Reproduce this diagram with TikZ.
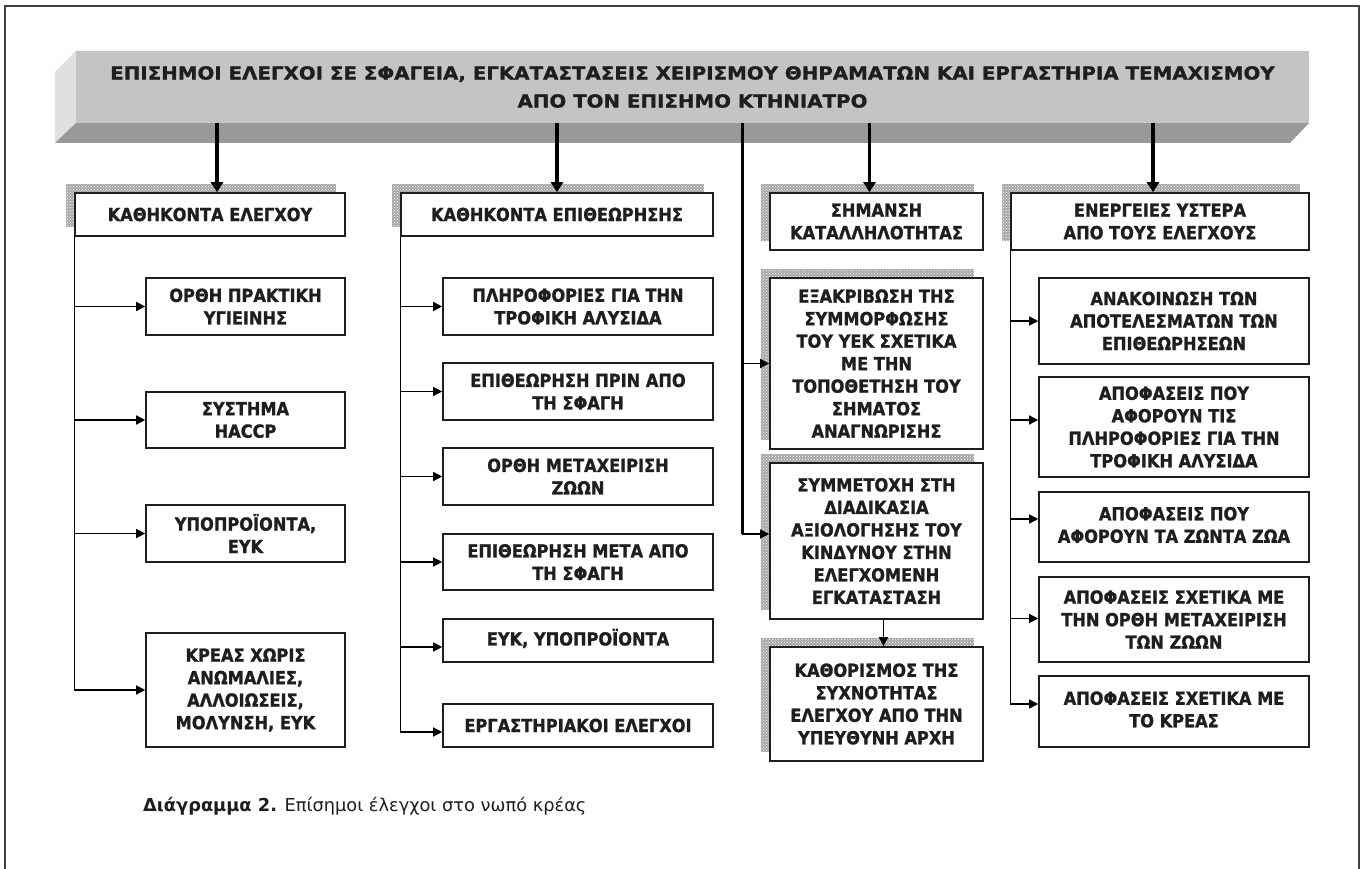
\documentclass[tikz,border=0pt]{standalone}
\usepackage{fontspec}
\setmainfont{DejaVu Sans}
\newfontfamily\boxfamily[FakeStretch=0.9, BoldFeatures={FakeBold=1.2}]{DejaVu Sans}
\newfontfamily\titlefamily[FakeStretch=1.1, BoldFeatures={FakeBold=1.2}]{DejaVu Sans}
\usetikzlibrary{arrows.meta,patterns}
\definecolor{ink}{HTML}{1E1E1E}
\definecolor{frontgray}{HTML}{C4C4C4}
\definecolor{leftgray}{HTML}{E0E0E0}
\definecolor{bottomgray}{HTML}{999999}
\definecolor{framegray}{HTML}{404040}
\definecolor{shadowgray}{HTML}{A8A8A8}
\tikzset{
  box/.style={draw=ink, line width=1.6pt, fill=white, text=ink, align=center, inner sep=2pt,
              font=\boxfamily\bfseries\fontsize{18}{22.5}\selectfont},
  shadowfill/.style={fill=shadowgray},
  shadowdots/.style={pattern=crosshatch dots, pattern color=white},
  conn/.style={line width=1.4pt, draw=black},
  branch/.style={conn, -{Triangle[length=9pt,width=9pt]}},
  mainarrow/.style={line width=3.5pt, draw=black, -{Triangle[length=10pt,width=12pt]}},
}
\newcommand{\shadowrect}[4]{%
  \fill[shadowfill] (#1,#2) rectangle (#3,#4);
  \fill[shadowdots] (#1,#2) rectangle (#3,#4);}
\newcommand{\uptext}[2]{\raisebox{#1}{\begin{tabular}{@{}c@{}}#2\end{tabular}}}
\begin{document}
\begin{tikzpicture}[x=1pt,y=-1pt]
\useasboundingbox (0,0) rectangle (1365,869);
% outer frame
\draw[framegray, line width=2pt] (5,869) -- (5,6) -- (1359,6) -- (1359,869);
% banner
\fill[leftgray] (76,51) -- (55,72) -- (55,143) -- (76,123) -- cycle;
\fill[bottomgray] (76,123) -- (1309,123) -- (1290,143) -- (55,143) -- cycle;
\node[fill=frontgray, minimum width=1233pt, minimum height=72pt, inner sep=0pt,
      text=ink, align=center, font=\titlefamily\bfseries\fontsize{18}{28}\selectfont]
  (banner) at (692.5,87) {ΕΠΙΣΗΜΟΙ ΕΛΕΓΧΟΙ ΣΕ ΣΦΑΓΕΙΑ, ΕΓΚΑΤΑΣΤΑΣΕΙΣ ΧΕΙΡΙΣΜΟΥ ΘΗΡΑΜΑΤΩΝ ΚΑΙ ΕΡΓΑΣΤΗΡΙΑ ΤΕΜΑΧΙΣΜΟΥ\\ΑΠΟ ΤΟΝ ΕΠΙΣΗΜΟ ΚΤΗΝΙΑΤΡΟ};

% shadows
\shadowrect{66}{184}{336}{227}
\shadowrect{392}{184}{704}{227}
\shadowrect{761}{184}{974}{241}
\shadowrect{1002}{184}{1300}{241}
\shadowrect{761}{269}{974}{440}
\shadowrect{761}{454}{974}{610}
\shadowrect{761}{638}{974}{752}

% headers
\node[box, minimum width=270pt, minimum height=43pt] (h1) at (210,214.5) {ΚΑΘΗΚΟΝΤΑ ΕΛΕΓΧΟΥ};
\node[box, minimum width=312pt, minimum height=43pt] (h2) at (557,214.5) {ΚΑΘΗΚΟΝΤΑ ΕΠΙΘΕΩΡΗΣΗΣ};
\node[box, minimum width=213pt, minimum height=57pt] (h3) at (876.5,221.5) {ΣΗΜΑΝΣΗ\\ΚΑΤΑΛΛΗΛΟΤΗΤΑΣ};
\node[box, minimum width=298pt, minimum height=57pt] (h4) at (1160,221.5) {ΕΝΕΡΓΕΙΕΣ ΥΣΤΕΡΑ\\ΑΠΟ ΤΟΥΣ ΕΛΕΓΧΟΥΣ};

% column 1
\node[box, minimum width=199pt, minimum height=57pt] (c11) at (245.5,306.5) {ΟΡΘΗ ΠΡΑΚΤΙΚΗ\\ΥΓΙΕΙΝΗΣ};
\node[box, minimum width=199pt, minimum height=56pt] (c12) at (245.5,420) {ΣΥΣΤΗΜΑ\\HACCP};
\node[box, minimum width=199pt, minimum height=57pt] (c13) at (245.5,533.5) {ΥΠΟΠΡΟΪΟΝΤΑ,\\ΕΥΚ};
\node[box, minimum width=199pt, minimum height=114pt] (c14) at (245.5,690) {ΚΡΕΑΣ ΧΩΡΙΣ\\ΑΝΩΜΑΛΙΕΣ,\\ΑΛΛΟΙΩΣΕΙΣ,\\ΜΟΛΥΝΣΗ, ΕΥΚ};

% column 2
\node[box, minimum width=270pt, minimum height=57pt] (c21) at (578,306.5) {ΠΛΗΡΟΦΟΡΙΕΣ ΓΙΑ ΤΗΝ\\ΤΡΟΦΙΚΗ ΑΛΥΣΙΔΑ};
\node[box, minimum width=270pt, minimum height=57pt] (c22) at (578,391.5) {ΕΠΙΘΕΩΡΗΣΗ ΠΡΙΝ ΑΠΟ\\ΤΗ ΣΦΑΓΗ};
\node[box, minimum width=270pt, minimum height=57pt] (c23) at (578,476.5) {ΟΡΘΗ ΜΕΤΑΧΕΙΡΙΣΗ\\ΖΩΩΝ};
\node[box, minimum width=270pt, minimum height=56pt] (c24) at (578,562) {ΕΠΙΘΕΩΡΗΣΗ ΜΕΤΑ ΑΠΟ\\ΤΗ ΣΦΑΓΗ};
\node[box, minimum width=270pt, minimum height=43pt] (c25) at (578,640.5) {\uptext{3pt}{ΕΥΚ, ΥΠΟΠΡΟΪΟΝΤΑ}};
\node[box, minimum width=270pt, minimum height=43pt] (c26) at (578,725.5) {ΕΡΓΑΣΤΗΡΙΑΚΟΙ ΕΛΕΓΧΟΙ};

% column 3
\node[box, minimum width=213pt, minimum height=171pt] (c31) at (876.5,363.5) {ΕΞΑΚΡΙΒΩΣΗ ΤΗΣ\\ΣΥΜΜΟΡΦΩΣΗΣ\\ΤΟΥ ΥΕΚ ΣΧΕΤΙΚΑ\\ΜΕ ΤΗΝ\\ΤΟΠΟΘΕΤΗΣΗ ΤΟΥ\\ΣΗΜΑΤΟΣ\\ΑΝΑΓΝΩΡΙΣΗΣ};
\node[box, minimum width=213pt, minimum height=156pt] (c32) at (876.5,541) {ΣΥΜΜΕΤΟΧΗ ΣΤΗ\\ΔΙΑΔΙΚΑΣΙΑ\\ΑΞΙΟΛΟΓΗΣΗΣ ΤΟΥ\\ΚΙΝΔΥΝΟΥ ΣΤΗΝ\\ΕΛΕΓΧΟΜΕΝΗ\\ΕΓΚΑΤΑΣΤΑΣΗ};
\node[box, minimum width=213pt, minimum height=114pt] (c33) at (876.5,704) {ΚΑΘΟΡΙΣΜΟΣ ΤΗΣ\\ΣΥΧΝΟΤΗΤΑΣ\\ΕΛΕΓΧΟΥ ΑΠΟ ΤΗΝ\\ΥΠΕΥΘΥΝΗ ΑΡΧΗ};

% column 4
\node[box, minimum width=270pt, minimum height=86pt] (c41) at (1174,321) {ΑΝΑΚΟΙΝΩΣΗ ΤΩΝ\\ΑΠΟΤΕΛΕΣΜΑΤΩΝ ΤΩΝ\\ΕΠΙΘΕΩΡΗΣΕΩΝ};
\node[box, minimum width=270pt, minimum height=100pt] (c42) at (1174,427) {ΑΠΟΦΑΣΕΙΣ ΠΟΥ\\ΑΦΟΡΟΥΝ ΤΙΣ\\ΠΛΗΡΟΦΟΡΙΕΣ ΓΙΑ ΤΗΝ\\ΤΡΟΦΙΚΗ ΑΛΥΣΙΔΑ};
\node[box, minimum width=270pt, minimum height=70pt] (c43) at (1174,527) {\uptext{6pt}{ΑΠΟΦΑΣΕΙΣ ΠΟΥ\\ΑΦΟΡΟΥΝ ΤΑ ΖΩΝΤΑ ΖΩΑ}};
\node[box, minimum width=270pt, minimum height=85pt] (c44) at (1174,619.5) {ΑΠΟΦΑΣΕΙΣ ΣΧΕΤΙΚΑ ΜΕ\\ΤΗΝ ΟΡΘΗ ΜΕΤΑΧΕΙΡΙΣΗ\\ΤΩΝ ΖΩΩΝ};
\node[box, minimum width=270pt, minimum height=71pt] (c45) at (1174,711.5) {\uptext{6pt}{ΑΠΟΦΑΣΕΙΣ ΣΧΕΤΙΚΑ ΜΕ\\ΤΟ ΚΡΕΑΣ}};

% arrows from banner
\coordinate (a1) at ([xshift=7pt]h1.north);
\coordinate (a2) at (h2.north);
\coordinate (a3) at ([xshift=-7pt]h3.north);
\coordinate (a4) at ([xshift=-7pt]h4.north);
\foreach \a in {a1,a2,a3,a4} \draw[mainarrow] (banner.south -| \a) -- (\a);

% arrow targets on the boxes' left sides
\foreach \n/\d in {c11/0,c12/0,c13/0,c14/0,c21/0,c22/0,c23/0,c24/0,c25/-6.5,c26/-6.5,
                   c31/0,c32/7,c41/0,c42/7,c43/8,c44/1,c45/7.5}
  \coordinate (t\n) at ([yshift=\d pt]\n.west);

% column 1 connectors
\draw[conn] (h1.south west) -- (h1.south west |- tc14);
\foreach \n in {c11,c12,c13,c14} \draw[branch] (h1.south west |- t\n) -- (t\n);
% column 2 connectors
\draw[conn] (h2.south west) -- (h2.south west |- tc26);
\foreach \n in {c21,c22,c23,c24,c25,c26} \draw[branch] (h2.south west |- t\n) -- (t\n);
% column 3 connectors
\coordinate (sp) at (742,0);
\draw[line width=3pt] (banner.south -| sp) -- (sp |- tc32);
\foreach \n in {c31,c32} \draw[branch] (sp |- t\n) -- (t\n);
\coordinate (d1) at ([xshift=7pt]c32.south);
\draw[branch] (d1) -- (d1 |- c33.north);
% column 4 connectors
\draw[conn] (h4.south west) -- (h4.south west |- tc45);
\foreach \n in {c41,c42,c43,c44,c45} \draw[branch] (h4.south west |- t\n) -- (t\n);

% caption
\node[anchor=west, text=ink, font=\fontsize{17.8}{22}\selectfont, inner sep=0pt] (cap) at (143,806) {\textbf{Διάγραμμα 2.} Επίσημοι έλεγχοι στο νωπό κρέας};
\end{tikzpicture}
\end{document}
